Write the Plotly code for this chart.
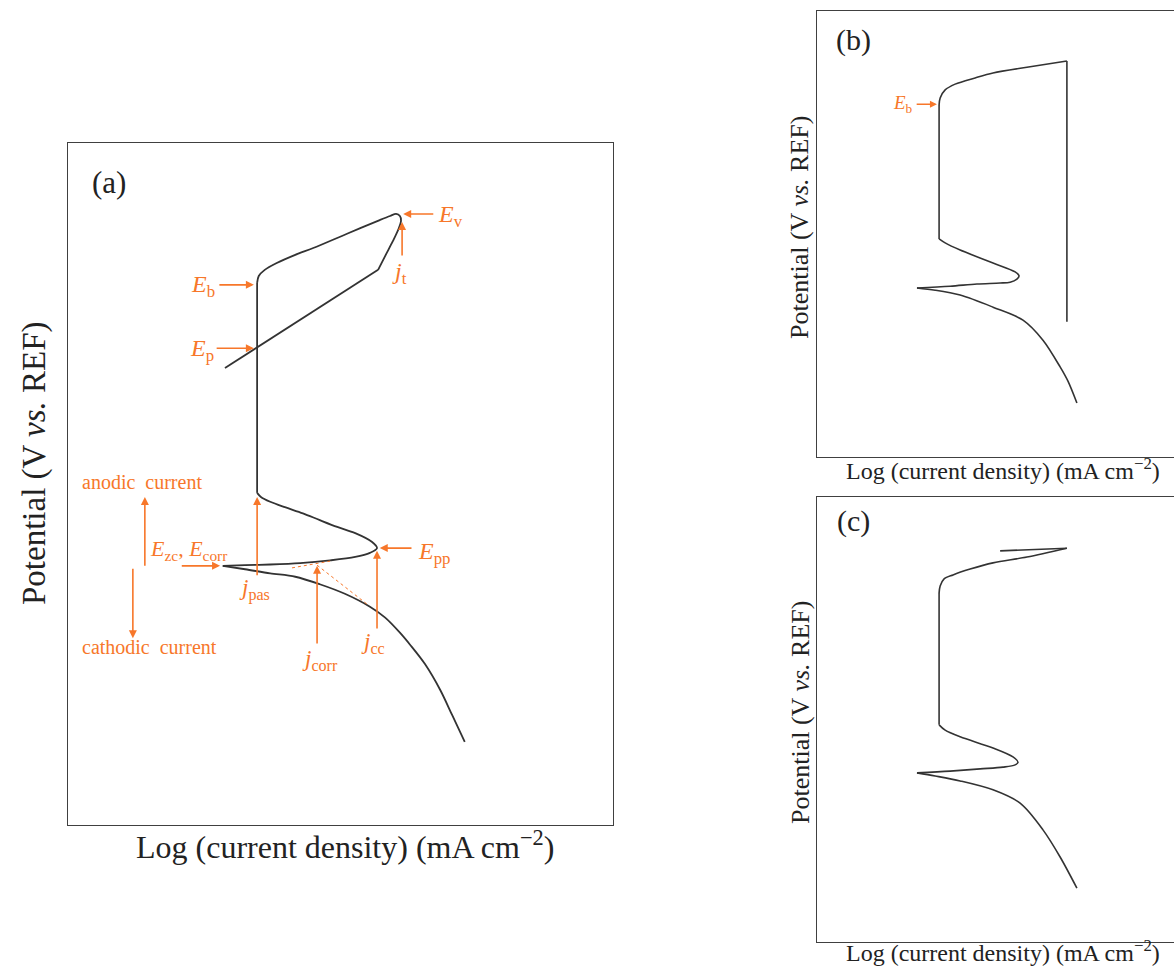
import plotly.graph_objects as go

# Schematic polarisation curves, arbitrary units (0-100) on both axes:
# x = log current density, y = potential.

# (a) full cyclic polarisation curve: cathodic branch -> active nose -> passive
# plateau -> breakdown -> vertex -> reverse scan
a_logj = [72.8, 70.5, 68.3, 65.5, 62.8, 60.9, 58.2, 55.4, 50.8, 46.2, 41.7, 37.1, 32.5, 28.4,
          32.5, 37.1, 42.6, 48.1, 52.7, 55.4, 56.7,
          55.8, 52.7, 49.4, 46.2, 43.1, 39.8, 37.1, 35.4, 34.7,
          34.7, 35.0, 36.1, 38.3, 41.7, 45.0, 51.2, 57.2, 59.1, 60.2,
          60.9, 61.1, 60.7, 59.6, 58.3, 56.9, 28.8]
a_pot = [12.2, 16.1, 19.8, 23.6, 26.4, 28.2, 30.4, 32.0, 33.9, 35.3, 36.4, 36.9, 37.5, 38.0,
         38.1, 38.2, 38.4, 38.8, 39.3, 39.9, 40.6,
         41.5, 42.8, 43.7, 44.7, 45.7, 46.6, 47.4, 48.1, 48.7,
         79.5, 80.5, 81.4, 82.4, 83.6, 84.6, 86.7, 88.7, 89.3, 89.6,
         89.3, 88.6, 87.5, 85.6, 83.6, 81.4, 67.0]
# break points: E_corr tip, both ends of the passive plateau, j_t kink
a_breaks = [13, 29, 30, 45]

# Tafel extrapolations meeting at j_corr
tafel_a_logj = [41.1, 48.1]
tafel_a_pot = [37.7, 38.7]
tafel_c_logj = [45.7, 55.0]
tafel_c_pot = [38.1, 32.3]

# (b) breakdown followed by a current-limited vertical reverse
b_logj = [72.8, 70.3, 68.1, 63.3, 57.7, 49.3, 40.1, 33.1, 28.0,
          37.3, 44.8, 51.3, 54.1, 56.0, 56.6, 55.5, 49.3, 40.1, 35.9, 34.2,
          34.2, 34.5, 35.9, 38.7, 44.3, 49.3, 58.8, 70.0, 70.0]
b_pot = [12.1, 17.0, 20.2, 26.2, 30.7, 33.6, 36.3, 37.4, 37.9,
         38.3, 38.8, 39.0, 39.2, 39.9, 40.6, 41.5, 43.5, 46.4, 48.0, 48.9,
         78.9, 80.5, 82.3, 83.6, 85.0, 86.1, 87.4, 88.8, 30.3]
b_breaks = [8, 19, 20, 27]

# (c) breakdown with a short reverse scan
c_logj = [72.8, 68.1, 63.3, 56.9, 49.3, 40.1, 33.1, 28.0,
          37.3, 45.7, 52.1, 55.5, 56.3, 54.9, 49.3, 40.1, 35.9, 34.2,
          34.2, 34.5, 35.6, 38.1, 42.9, 49.3, 58.8, 70.0, 51.3]
c_pot = [12.1, 19.1, 25.2, 31.2, 34.2, 36.2, 37.3, 38.0,
         38.4, 38.9, 39.3, 39.8, 40.4, 41.6, 43.6, 46.1, 47.6, 48.8,
         78.4, 80.0, 81.6, 82.5, 83.8, 85.2, 86.5, 88.5, 87.9]
c_breaks = [7, 17, 18, 25]

CURVE = "#333333"
ORANGE = "#F7772A"
SERIF = "Liberation Serif, Times New Roman, serif"

fig = go.Figure()


def add_curve(xs, ys, breaks, xa, ya, width):
    # smooth between break points; two-point pieces stay straight
    cuts = [0] + breaks + [len(xs) - 1]
    for i0, i1 in zip(cuts[:-1], cuts[1:]):
        fig.add_trace(go.Scatter(x=xs[i0:i1 + 1], y=ys[i0:i1 + 1], mode="lines",
                                 xaxis=xa, yaxis=ya, hoverinfo="skip",
                                 line=dict(color=CURVE, width=width, shape="spline",
                                           smoothing=0.9)))


add_curve(a_logj, a_pot, a_breaks, "x", "y", 1.8)
for tx, ty in [(tafel_a_logj, tafel_a_pot), (tafel_c_logj, tafel_c_pot)]:
    fig.add_trace(go.Scatter(x=tx, y=ty, mode="lines", xaxis="x", yaxis="y",
                             line=dict(color=ORANGE, width=1, dash="dot"), hoverinfo="skip"))
add_curve(b_logj, b_pot, b_breaks, "x2", "y2", 1.6)
add_curve(c_logj, c_pot, c_breaks, "x3", "y3", 1.6)

W, H = 1174, 971


def px_x(p):
    return p / W


def px_y(p):
    return 1 - p / H


frame = dict(showticklabels=False, ticks="", showgrid=False, zeroline=False,
             showline=True, linecolor="#404040", linewidth=1.3, range=[0, 100],
             fixedrange=True)

fig.update_layout(
    width=W, height=H, margin=dict(l=0, r=0, t=0, b=0),
    paper_bgcolor="white", plot_bgcolor="white", showlegend=False,
    xaxis=dict(frame, domain=[px_x(68), px_x(613)], anchor="y", mirror=True),
    yaxis=dict(frame, domain=[px_y(825), px_y(143)], anchor="x", mirror=True),
    xaxis2=dict(frame, domain=[px_x(817), 1.0], anchor="y2", mirror=True),
    yaxis2=dict(frame, domain=[px_y(457), px_y(11)], anchor="x2", mirror=False),
    xaxis3=dict(frame, domain=[px_x(817), 1.0], anchor="y3", mirror=True),
    yaxis3=dict(frame, domain=[px_y(942), px_y(497)], anchor="x3", mirror=False),
)

ann = []


def text(ax, x, y, s, size, color=ORANGE, xanchor="center", yanchor="middle"):
    ann.append(dict(xref=ax[0], yref=ax[1], x=x, y=y, text=s, showarrow=False,
                    xanchor=xanchor, yanchor=yanchor,
                    font=dict(family=SERIF, size=size, color=color)))


def arrow(ax, x0, y0, x1, y1, width=1.6):
    ann.append(dict(xref=ax[0], yref=ax[1], axref=ax[0], ayref=ax[1],
                    x=x1, y=y1, ax=x0, ay=y0, text="", showarrow=True,
                    arrowhead=2, arrowsize=1.0, arrowwidth=width,
                    arrowcolor=ORANGE, standoff=0, startstandoff=0))


A = ("x", "y")
B = ("x2", "y2")
C = ("x3", "y3")

# panel labels
text(A, 7.5, 94.2, "(a)", 31, color="#222222")
text(B, 10.3, 93.5, "(b)", 30, color="#222222")
text(C, 10.3, 94.6, "(c)", 30, color="#222222")

# (a) markers
text(A, 67.5, 89.3, "<i>E</i><sub>v</sub>", 24, xanchor="left")
arrow(A, 67.3, 89.6, 61.5, 89.6)
text(A, 60.9, 81.0, "<i>j</i><sub>t</sub>", 24)
arrow(A, 61.3, 83.3, 61.3, 88.4)
text(A, 27.4, 79.0, "<i>E</i><sub>b</sub>", 24, xanchor="right")
arrow(A, 27.5, 79.2, 34.1, 79.2)
text(A, 27.2, 69.6, "<i>E</i><sub>p</sub>", 24, xanchor="right")
arrow(A, 27.0, 69.9, 34.1, 69.9)
text(A, 22.2, 40.3, "<i>E</i><sub>zc</sub>, <i>E</i><sub>corr</sub>", 22)
arrow(A, 20.6, 38.0, 27.9, 38.0)
text(A, 13.6, 50.3, "anodic  current", 20)
arrow(A, 14.1, 37.8, 14.1, 48.1)
text(A, 14.9, 26.1, "cathodic  current", 20)
arrow(A, 11.9, 37.8, 11.9, 27.4)
text(A, 34.3, 34.6, "<i>j</i><sub>pas</sub>", 23)
arrow(A, 34.7, 36.4, 34.7, 48.1)
text(A, 46.2, 24.2, "<i>j</i><sub>corr</sub>", 23)
arrow(A, 45.7, 26.4, 45.7, 38.0)
text(A, 56.0, 26.7, "<i>j</i><sub>cc</sub>", 23)
arrow(A, 56.7, 28.6, 56.7, 40.2)
text(A, 63.9, 39.9, "<i>E</i><sub>pp</sub>", 24, xanchor="left")
arrow(A, 63.3, 40.6, 57.2, 40.6)

# (b) marker
text(B, 27.4, 79.2, "<i>E</i><sub>b</sub>", 19, xanchor="right")
arrow(B, 27.5, 79.1, 33.6, 79.1, width=1.4)

# axis titles
ytitle = "Potential (V <i>vs.</i> REF)"
xtitle = "Log (current density) (mA cm<sup>\u22122</sup>)"
ann.append(dict(xref="paper", yref="paper", x=px_x(34), y=px_y(463), text=ytitle,
                textangle=-90, showarrow=False, xanchor="center", yanchor="middle",
                font=dict(family=SERIF, size=33, color="#222222")))
ann.append(dict(xref="paper", yref="paper", x=px_x(345), y=px_y(845), text=xtitle,
                showarrow=False, xanchor="center", yanchor="middle",
                font=dict(family=SERIF, size=32, color="#222222")))
for cy, xy in [(228, 469), (713, 951)]:
    ann.append(dict(xref="paper", yref="paper", x=px_x(800), y=px_y(cy), text=ytitle,
                    textangle=-90, showarrow=False, xanchor="center", yanchor="middle",
                    font=dict(family=SERIF, size=26, color="#222222")))
    ann.append(dict(xref="paper", yref="paper", x=px_x(1003), y=px_y(xy), text=xtitle,
                    showarrow=False, xanchor="center", yanchor="middle",
                    font=dict(family=SERIF, size=24, color="#222222")))

fig.update_layout(annotations=ann)
fig.write_html("out.html")
